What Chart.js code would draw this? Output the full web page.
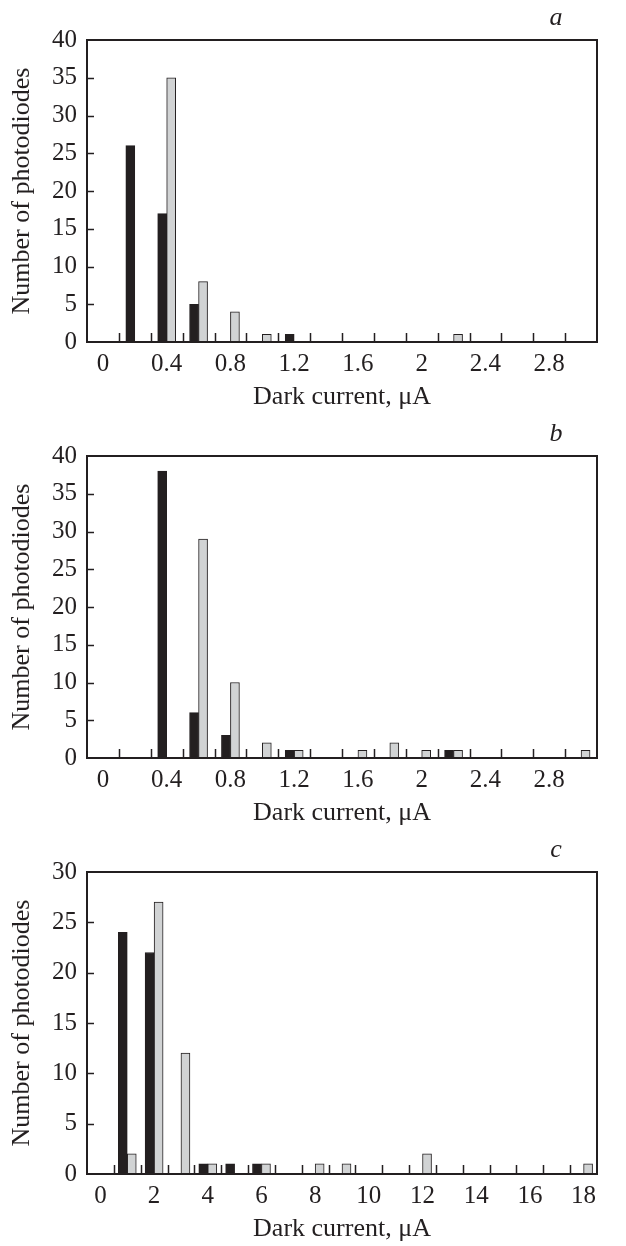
<!DOCTYPE html>
<html>
<head>
<meta charset="utf-8">
<script src="https://cdn.jsdelivr.net/npm/chart.js@4.4.1/dist/chart.umd.min.js"></script>
<style>
  body { margin: 0; background: #fff; }
  .panel { position: absolute; left: 0; width: 626px; height: 414px; }
</style>
</head>
<body>
<div class="panel" style="top:0px"><canvas id="chartA" width="626" height="414"></canvas></div>
<div class="panel" style="top:416px"><canvas id="chartB" width="626" height="414"></canvas></div>
<div class="panel" style="top:832px"><canvas id="chartC" width="626" height="414"></canvas></div>
<script>
// bins de corriente oscura (uA)
const binsAB = [0, 0.2, 0.4, 0.6, 0.8, 1.0, 1.2, 1.4, 1.6, 1.8, 2.0, 2.2, 2.4, 2.6, 2.8, 3.0];
const binsC = [0, 1, 2, 3, 4, 5, 6, 7, 8, 9, 10, 11, 12, 13, 14, 15, 16, 17, 18];

// etiquetas del eje x (una de cada dos bins)
const tickLabelsAB = ["0", "0.4", "0.8", "1.2", "1.6", "2", "2.4", "2.8"];
const tickLabelsC = ["0", "2", "4", "6", "8", "10", "12", "14", "16", "18"];

// panel a
const blackA = [0, 26, 17, 5, 0, 0, 1, 0, 0, 0, 0, 0, 0, 0, 0, 0];
const greyA  = [0, 0, 35, 8, 4, 1, 0, 0, 0, 0, 0, 1, 0, 0, 0, 0];
// panel b
const blackB = [0, 0, 38, 6, 3, 0, 1, 0, 0, 0, 0, 1, 0, 0, 0, 0];
const greyB  = [0, 0, 0, 29, 10, 2, 1, 0, 1, 2, 1, 1, 0, 0, 0, 1];
// panel c
const blackC = [0, 24, 22, 0, 1, 1, 1, 0, 0, 0, 0, 0, 0, 0, 0, 0, 0, 0, 0];
const greyC  = [0, 2, 27, 12, 1, 0, 1, 0, 1, 1, 0, 0, 2, 0, 0, 0, 0, 0, 1];

const ink = "#231f20";
const serif = "'Liberation Serif', 'Times New Roman', serif";

// marco, marcas hacia dentro y letra del panel
const framePlugin = {
  id: "frame",
  afterDatasetsDraw(chart, args, opts) {
    const { ctx, chartArea: a, scales: { x, y } } = chart;
    ctx.save();
    ctx.strokeStyle = ink;
    ctx.lineWidth = 1.5;
    ctx.beginPath();
    for (let i = 1; i < x.ticks.length; i++) {
      const px = Math.round((x.getPixelForValue(i - 1) + x.getPixelForValue(i)) / 2) + 0.5;
      ctx.moveTo(px, a.bottom);
      ctx.lineTo(px, a.bottom - 9);
    }
    y.ticks.forEach(t => {
      if (t.value <= y.min || t.value >= y.max) return;
      const py = Math.round(y.getPixelForValue(t.value)) + 0.5;
      ctx.moveTo(a.left, py);
      ctx.lineTo(a.left + 7, py);
    });
    ctx.stroke();
    ctx.lineWidth = 2;
    ctx.strokeRect(a.left, a.top, a.right - a.left, a.bottom - a.top);
    ctx.fillStyle = ink;
    ctx.font = "italic 26px " + serif;
    ctx.textAlign = "center";
    ctx.textBaseline = "middle";
    ctx.fillText(opts.letter, a.right - 41, a.top - 22);
    ctx.restore();
  }
};

const makeChart = (id, bins, black, grey, tickLabels, yMax, letter) => {
  new Chart(document.getElementById(id), {
    type: "bar",
    data: {
      labels: bins,
      datasets: [
        {
          data: black,
          backgroundColor: ink,
          borderColor: ink,
          borderWidth: 1,
          barThickness: 9
        },
        {
          data: grey,
          backgroundColor: "#d1d3d4",
          borderColor: ink,
          borderWidth: 1,
          barThickness: 9
        }
      ]
    },
    options: {
      responsive: false,
      devicePixelRatio: 1,
      animation: false,
      layout: { padding: { top: 40, right: 29, left: 0, bottom: 0 } },
      plugins: {
        legend: { display: false },
        tooltip: { enabled: false },
        frame: { letter: letter }
      },
      scales: {
        x: {
          type: "category",
          offset: true,
          grid: { display: false, drawTicks: false },
          border: { display: false },
          ticks: {
            autoSkip: false,
            maxRotation: 0,
            padding: 7,
            color: ink,
            font: { family: serif, size: 25 },
            callback: (value, index) => (index % 2 === 0 ? tickLabels[index / 2] : "")
          },
          title: {
            display: true,
            text: "Dark current, μA",
            color: ink,
            font: { family: serif, size: 26 },
            padding: { top: 0, bottom: 1 }
          },
          afterFit: scale => { scale.height = 72; }
        },
        y: {
          min: 0,
          max: yMax,
          grid: { display: false, drawTicks: false },
          border: { display: false },
          ticks: {
            stepSize: 5,
            padding: 10,
            color: ink,
            font: { family: serif, size: 25 }
          },
          title: {
            display: true,
            text: "Number of photodiodes",
            color: ink,
            font: { family: serif, size: 26 },
            padding: { top: 7, bottom: 0 }
          },
          afterFit: scale => { scale.width = 87; }
        }
      }
    },
    plugins: [framePlugin]
  });
};

makeChart("chartA", binsAB, blackA, greyA, tickLabelsAB, 40, "a");
makeChart("chartB", binsAB, blackB, greyB, tickLabelsAB, 40, "b");
makeChart("chartC", binsC, blackC, greyC, tickLabelsC, 30, "c");
</script>
</body>
</html>
